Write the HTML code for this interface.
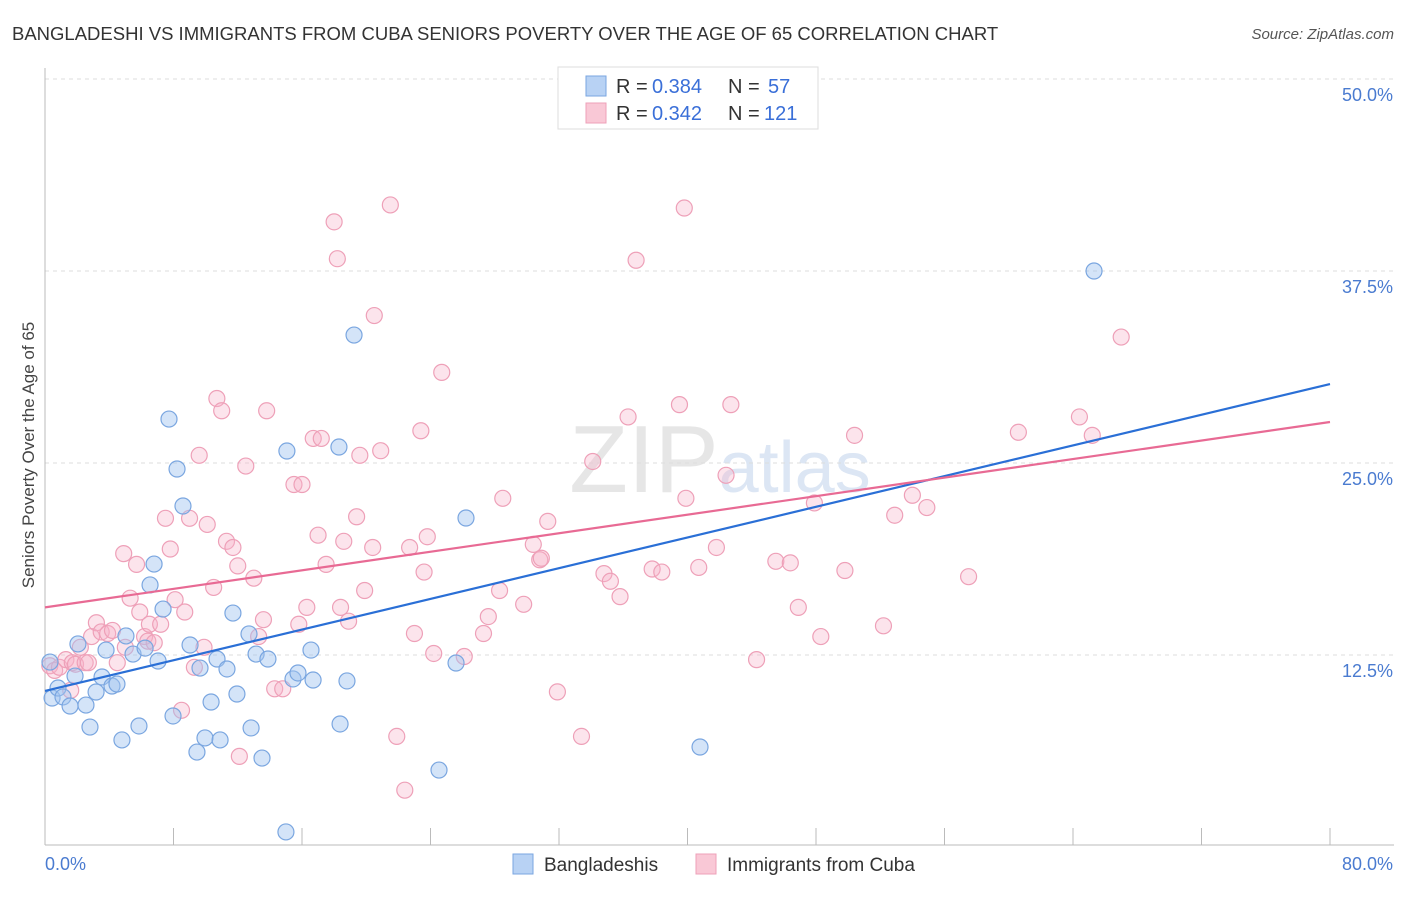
<!DOCTYPE html>
<html><head><meta charset="utf-8">
<style>
body{margin:0;background:#fff;font-family:"Liberation Sans",sans-serif;}
svg text{font-family:"Liberation Sans",sans-serif;}
</style></head>
<body>
<svg id="chart" width="1406" height="892" xmlns="http://www.w3.org/2000/svg">
<text x="12" y="40" font-size="18.5" fill="#333">BANGLADESHI VS IMMIGRANTS FROM CUBA SENIORS POVERTY OVER THE AGE OF 65 CORRELATION CHART</text>
<text x="1394" y="39" font-size="15" fill="#555" font-style="italic" text-anchor="end">Source: ZipAtlas.com</text>
<text x="720" y="492" font-size="96" fill="#e6e6e6" text-anchor="middle" font-family="Liberation Serif">ZIP<tspan fill="#dce6f4" font-family="Liberation Sans" font-size="72">atlas</tspan></text>
<g id="grid"></g>
<g id="axes"></g>
<g id="dots"></g>
<g id="lines"></g>
<text transform="translate(34,455) rotate(-90)" font-size="17" fill="#444" text-anchor="middle">Seniors Poverty Over the Age of 65</text>
<g>
<rect x="558" y="67" width="260" height="62" fill="#fff" stroke="#ddd"/>
<rect x="586" y="76" width="20" height="20" fill="#b8d2f4" stroke="#7aa6e0"/>
<text x="616" y="93" font-size="20" fill="#333">R =</text>
<text x="652" y="93" font-size="20" fill="#3a6fd8">0.384</text>
<text x="728" y="93" font-size="20" fill="#333">N =</text>
<text x="768" y="93" font-size="20" fill="#3a6fd8">57</text>
<rect x="586" y="103" width="20" height="20" fill="#f9c8d6" stroke="#eea0b8"/>
<text x="616" y="120" font-size="20" fill="#333">R =</text>
<text x="652" y="120" font-size="20" fill="#3a6fd8">0.342</text>
<text x="728" y="120" font-size="20" fill="#333">N =</text>
<text x="764" y="120" font-size="20" fill="#3a6fd8">121</text>
</g>
<g>
<rect x="513" y="854" width="20" height="20" fill="#b8d2f4" stroke="#7aa6e0"/>
<text x="544" y="871" font-size="19" fill="#333">Bangladeshis</text>
<rect x="696" y="854" width="20" height="20" fill="#f9c8d6" stroke="#eea0b8"/>
<text x="727" y="871" font-size="19" fill="#333">Immigrants from Cuba</text>
</g>
</svg>
<script>
const yTicks=[12.5,25.0,37.5,50.0];
const yTickLabels=["12.5%","25.0%","37.5%","50.0%"];
const xTicks=[0,8,16,24,32,40,48,56,64,72,80];
const blueX=[0.31,0.44,0.81,1.12,1.56,1.87,2.05,2.55,2.80,3.18,3.55,3.80,4.17,4.48,4.79,5.04,5.48,5.85,6.23,6.54,6.79,7.04,7.35,7.72,7.97,8.22,8.59,9.03,9.46,9.65,9.96,10.34,10.71,10.90,11.33,11.70,11.95,12.70,12.83,13.14,13.51,13.88,15.00,15.06,15.44,15.75,16.56,16.69,18.30,18.37,18.80,19.24,24.53,25.59,26.21,40.78,65.31];
const blueY=[12.04,9.70,10.35,9.77,9.18,11.13,13.22,9.24,7.81,10.09,11.07,12.82,10.48,10.61,6.97,13.74,12.56,7.88,12.95,17.06,18.42,12.11,15.49,27.86,8.53,24.61,22.20,13.15,6.18,11.65,7.10,9.44,12.24,6.97,11.59,15.23,9.96,13.87,7.75,12.56,5.79,12.24,0.98,25.78,10.94,11.33,12.82,10.87,26.04,8.01,10.81,33.33,5.01,11.98,21.42,6.51,37.50];
const pinkX=[0.3,0.6,0.9,1.3,1.6,1.7,1.9,2.2,2.5,2.7,2.9,3.2,3.5,3.9,4.2,4.5,4.9,5.0,5.3,5.7,5.9,6.2,6.4,6.5,6.8,7.2,7.5,7.8,8.1,8.5,8.7,9.0,9.3,9.6,9.9,10.1,10.5,10.7,11.0,11.3,11.7,12.0,12.1,12.5,13.0,13.3,13.6,13.8,14.3,14.8,15.5,15.8,16.0,16.3,16.7,17.0,17.2,17.5,18.0,18.2,18.4,18.6,18.9,19.4,19.6,19.9,20.4,20.5,20.9,21.5,21.9,22.4,22.7,23.0,23.4,23.6,23.8,24.2,24.7,26.1,27.3,27.6,28.3,28.5,29.8,31.3,30.4,30.8,30.9,31.9,33.4,34.1,34.8,35.2,35.8,36.3,36.8,37.8,38.4,39.5,39.8,39.9,40.7,41.8,42.4,42.7,44.3,45.5,46.4,46.9,47.9,48.3,49.8,50.4,52.2,52.9,54.0,54.9,57.5,60.6,64.4,65.2,67.0];
const pinkY=[11.8,11.5,11.7,12.2,10.2,12.0,11.9,13.0,12.0,12.0,13.7,14.6,14.0,13.9,14.1,12.0,19.1,13.0,16.2,18.4,15.3,13.7,13.4,14.5,13.3,14.5,21.4,19.4,16.1,8.9,15.3,21.4,11.7,25.5,13.0,21.0,16.9,29.2,28.4,19.9,19.5,18.3,5.9,24.8,17.5,13.7,14.8,28.4,10.3,10.3,23.6,14.5,23.6,15.6,26.6,20.3,26.6,18.4,40.7,38.3,15.6,19.9,14.7,21.5,25.5,16.7,19.5,34.6,25.8,41.8,7.2,3.7,19.5,13.9,27.1,17.9,20.2,12.6,30.9,12.4,13.9,15.0,16.7,22.7,15.8,21.2,19.7,18.7,18.8,10.1,7.2,25.1,17.8,17.3,16.3,28.0,38.2,18.1,17.9,28.8,41.6,22.7,18.2,19.5,24.2,28.8,12.2,18.6,18.5,15.6,22.4,13.7,18.0,26.8,14.4,21.6,22.9,22.1,17.6,27.0,28.0,26.8,33.2];
const blueTrend=[10.16,30.14];
const pinkTrend=[15.6,27.67];
const trendX=[0,80];

const NS="http://www.w3.org/2000/svg";
const X0=45,X1=1330,Y0=847,PXPER=192/12.5;
function sx(v){return X0+(v/80)*(X1-X0);}
function sy(v){return Y0-v*PXPER;}
function mk(tag,attrs,parent){const e=document.createElementNS(NS,tag);for(const k in attrs)e.setAttribute(k,attrs[k]);parent.appendChild(e);return e;}
const gridG=document.getElementById('grid'),axesG=document.getElementById('axes'),dotsG=document.getElementById('dots'),linesG=document.getElementById('lines');
yTicks.forEach((t,i)=>{
  const l=mk('line',{x1:X0,x2:1394,y1:sy(t),y2:sy(t),stroke:'#ddd','stroke-dasharray':'4,4'},gridG);
  
  
  const tx=mk('text',{x:1393,y:sy(t)+22,'font-size':18,fill:'#4a7bd0','text-anchor':'end'},axesG);
  tx.textContent=yTickLabels[i];
  
  
});
const topLine=mk('line',{x1:X0,x2:1394,y1:79,y2:79,stroke:'#ddd','stroke-dasharray':'4,4'},gridG);


const ya=mk('line',{x1:X0,x2:X0,y1:68,y2:845,stroke:'#bbb'},axesG);


const xa=mk('line',{x1:X0,x2:1394,y1:845,y2:845,stroke:'#bbb'},axesG);


xTicks.forEach(t=>{
  const l=mk('line',{x1:sx(t),x2:sx(t),y1:828,y2:845,stroke:'#bbb'},axesG);
  
  
});
const xl0=mk('text',{x:45,y:870,'font-size':18,fill:'#4a7bd0'},axesG);xl0.textContent='0.0%';


const xl1=mk('text',{x:1393,y:870,'font-size':18,fill:'#4a7bd0','text-anchor':'end'},axesG);xl1.textContent='80.0%';


pinkX.forEach((v,i)=>{
  const c=mk('circle',{cx:sx(v),cy:sy(pinkY[i]),r:8,fill:'rgba(246,178,200,0.35)',stroke:'#eea0b8','stroke-width':1.2},dotsG);
  
  
});
blueX.forEach((v,i)=>{
  const c=mk('circle',{cx:sx(v),cy:sy(blueY[i]),r:8,fill:'rgba(160,196,240,0.45)',stroke:'#7aa6e0','stroke-width':1.2},dotsG);
  
  
});
const bl=mk('line',{x1:sx(trendX[0]),y1:sy(blueTrend[0]),x2:sx(trendX[1]),y2:sy(blueTrend[1]),stroke:'#2a6fd6','stroke-width':2.2},linesG);


const pl=mk('line',{x1:sx(trendX[0]),y1:sy(pinkTrend[0]),x2:sx(trendX[1]),y2:sy(pinkTrend[1]),stroke:'#e86a94','stroke-width':2.2},linesG);


</script>
</body></html>
